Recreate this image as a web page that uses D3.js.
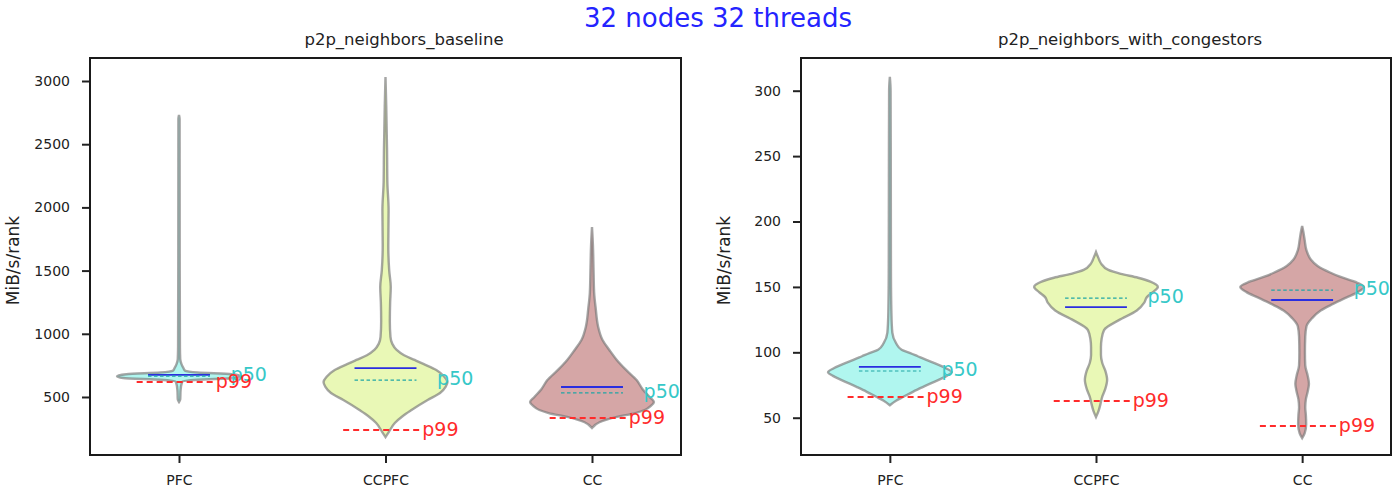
<!DOCTYPE html>
<html>
<head>
<meta charset="utf-8">
<script src="https://cdn.jsdelivr.net/npm/d3@7.9.0/dist/d3.min.js"></script>
<style>
    body { margin: 0; background: #fff; }
    text { font-family: 'DejaVu Sans', sans-serif; }
</style>
</head>
<body>
<div id="chart"></div>
<script>
// categories and titles
const categories = ['PFC', 'CCPFC', 'CC'];
const suptitle = '32 nodes 32 threads';
const panelTitles = ['p2p_neighbors_baseline', 'p2p_neighbors_with_congestors'];
const yLabel = 'MiB/s/rank';

// violin outlines: [value, relative half width]
const baselinePFC = [[460, 0], [480, 0.02], [550, 0.025], [620, 0.05], [636, 0.3], [650, 0.9], [665, 1.0],
    [680, 0.85], [694, 0.3], [708, 0.1], [730, 0.07], [760, 0.04], [800, 0.02], [900, 0.015],
    [1500, 0.012], [2700, 0.01], [2731, 0]];
const baselineCCPFC = [[183, 0], [220, 0.05], [294, 0.15], [350, 0.28], [397, 0.42], [476, 0.68],
    [531, 0.88], [580, 0.97], [619, 1.0], [660, 0.95], [714, 0.82], [760, 0.62], [793, 0.47],
    [830, 0.3], [872, 0.18], [920, 0.11], [975, 0.08], [1100, 0.07], [1250, 0.075], [1370, 0.085],
    [1500, 0.06], [1700, 0.045], [1979, 0.05], [2200, 0.03], [2454, 0.025], [2800, 0.012], [3032, 0]];
const baselineCC = [[255, 0], [300, 0.12], [342, 0.4], [373, 0.7], [397, 0.85], [430, 0.95], [460, 1.0],
    [500, 0.93], [560, 0.82], [634, 0.72], [714, 0.55], [793, 0.4], [872, 0.28], [951, 0.17],
    [1054, 0.1], [1200, 0.06], [1323, 0.035], [1500, 0.025], [1700, 0.015], [1845, 0]];

const congestPFC = [[59.5, 0], [63, 0.1], [66, 0.22], [70, 0.38], [73.4, 0.53], [78.8, 0.78], [82, 0.92],
    [84.8, 1.0], [88, 0.9], [92.5, 0.68], [94.4, 0.58], [97, 0.45], [99.4, 0.33], [102, 0.19],
    [107, 0.1], [115, 0.04], [130, 0.025], [160, 0.018], [250, 0.015], [300, 0.012], [310.5, 0]];
const congestCCPFC = [[50.5, 0], [55, 0.04], [60, 0.07], [66, 0.1], [72, 0.15], [79, 0.18], [86, 0.15],
    [92, 0.1], [98, 0.08], [104, 0.08], [110, 0.09], [117, 0.13], [124.6, 0.37], [132, 0.66],
    [138, 0.78], [142, 0.82], [146, 0.92], [150, 1.0], [154, 0.88], [157, 0.68], [160, 0.4],
    [163, 0.2], [168, 0.08], [172, 0.04], [176.7, 0]];
const congestCC = [[34.4, 0], [38, 0.04], [45, 0.065], [52, 0.06], [58, 0.05], [64, 0.06], [70, 0.09],
    [76, 0.11], [82, 0.09], [90, 0.05], [100, 0.045], [112, 0.05], [120, 0.07], [126, 0.16],
    [132, 0.3], [137, 0.5], [142, 0.72], [146, 0.9], [150, 1.0], [154, 0.85], [158, 0.6],
    [161, 0.45], [166, 0.25], [171, 0.14], [178, 0.07], [186, 0.04], [192, 0.02], [196.5, 0]];

// summary lines
const baselineMean = [675, 729, 579];
const baselineP50 = [665, 634, 532];
const baselineP99 = [619, 239, 334];
const congestMean = [88.8, 134.6, 140];
const congestP50 = [85.7, 141.5, 147.6];
const congestP99 = [65.8, 62.8, 43.6];

// axes
const baselineDomain = [41, 3182];
const congestDomain = [21.5, 325];
const baselineTicks = [500, 1000, 1500, 2000, 2500, 3000];
const congestTicks = [50, 100, 150, 200, 250, 300];

const fills = ['#b0f6ef', '#e9f8b6', '#d5a6a6'];

const width = 1395;
const height = 494;
const plotTop = 58, plotBottom = 455;

const panels = [
    { title: panelTitles[0], titleX: 404, left: 90, right: 681, domain: baselineDomain, ticks: baselineTicks,
      shapes: [baselinePFC, baselineCCPFC, baselineCC], mean: baselineMean, p50: baselineP50, p99: baselineP99 },
    { title: panelTitles[1], titleX: 1130, left: 801, right: 1391, domain: congestDomain, ticks: congestTicks,
      shapes: [congestPFC, congestCCPFC, congestCC], mean: congestMean, p50: congestP50, p99: congestP99 }
];

const svg = d3.select('#chart')
    .append('svg')
    .attr('width', width)
    .attr('height', height)
    .attr('viewBox', `0 0 ${width} ${height}`);

svg.append('rect').attr('width', width).attr('height', height).attr('fill', '#fff');

svg.append('text')
    .attr('x', 718)
    .attr('y', 27)
    .attr('text-anchor', 'middle')
    .attr('font-size', '26px')
    .attr('fill', '#2424ff')
    .text(suptitle);

panels.forEach(p => {
    const x = d3.scaleLinear().domain([0.569, 3.431]).range([p.left, p.right]);
    const y = d3.scaleLinear().domain(p.domain).range([plotBottom, plotTop]);
    const g = svg.append('g');

    // title
    g.append('text')
        .attr('x', p.titleX)
        .attr('y', 45)
        .attr('text-anchor', 'middle')
        .attr('font-size', '16.5px')
        .attr('fill', '#222')
        .text(p.title);

    // violins
    const half = 0.3;
    p.shapes.forEach((shape, i) => {
        const pos = i + 1;
        const area = d3.area()
            .y(d => y(d[0]))
            .x0(d => x(pos - d[1] * half))
            .x1(d => x(pos + d[1] * half))
            .curve(d3.curveMonotoneY);
        g.append('path')
            .datum(shape)
            .attr('d', area)
            .attr('fill', fills[i])
            .attr('stroke', '#777')
            .attr('stroke-opacity', 0.65)
            .attr('stroke-width', 2.4);
    });

    // mean (blue), median (dashed), p99 (red)
    categories.forEach((c, i) => {
        const pos = i + 1;
        g.append('line')
            .attr('x1', x(pos - 0.15)).attr('x2', x(pos + 0.15))
            .attr('y1', y(p.mean[i])).attr('y2', y(p.mean[i]))
            .attr('stroke', '#2a2ee0')
            .attr('stroke-width', 1.8);
        g.append('line')
            .attr('x1', x(pos - 0.15)).attr('x2', x(pos + 0.15))
            .attr('y1', y(p.p50[i])).attr('y2', y(p.p50[i]))
            .attr('stroke', '#1fa5a5')
            .attr('stroke-width', 1.2)
            .attr('stroke-dasharray', '3.5,2.5');
        g.append('text')
            .attr('x', x(pos + 0.25))
            .attr('y', y(p.p50[i]) - 2)
            .attr('dominant-baseline', 'central')
            .attr('font-size', '19px')
            .attr('fill', '#36c8c8')
            .text('p50');
        g.append('line')
            .attr('x1', x(pos - 0.205)).attr('x2', x(pos + 0.175))
            .attr('y1', y(p.p99[i])).attr('y2', y(p.p99[i]))
            .attr('stroke', '#ff2b2b')
            .attr('stroke-width', 2)
            .attr('stroke-dasharray', '6,4');
        g.append('text')
            .attr('x', x(pos + 0.178))
            .attr('y', y(p.p99[i]) - 1)
            .attr('dominant-baseline', 'central')
            .attr('font-size', '19px')
            .attr('fill', '#ff2b2b')
            .text('p99');
    });

    // y axis
    const yAxis = g.append('g')
        .attr('transform', `translate(${p.left},0)`)
        .call(d3.axisLeft(y).tickValues(p.ticks).tickFormat(d3.format('d')).tickSize(8).tickPadding(12));
    yAxis.select('.domain').remove();
    yAxis.selectAll('line').attr('stroke', '#222').attr('stroke-width', 2);
    yAxis.selectAll('text').attr('font-size', '14px').attr('fill', '#222');

    // x axis
    const xAxis = g.append('g')
        .attr('transform', `translate(0,${plotBottom})`)
        .call(d3.axisBottom(x).tickValues([1, 2, 3]).tickFormat((d, i) => categories[i]).tickSize(8).tickPadding(12));
    xAxis.select('.domain').remove();
    xAxis.selectAll('line').attr('stroke', '#222').attr('stroke-width', 2);
    xAxis.selectAll('text').attr('font-size', '14px').attr('fill', '#222');

    // frame
    g.append('rect')
        .attr('x', p.left).attr('y', plotTop)
        .attr('width', p.right - p.left).attr('height', plotBottom - plotTop)
        .attr('fill', 'none')
        .attr('stroke', '#1a1a1a')
        .attr('stroke-width', 2);

    // y label
    g.append('text')
        .attr('transform', `translate(${p.left - 77},${(plotTop + plotBottom) / 2 + 4}) rotate(-90)`)
        .attr('text-anchor', 'middle')
        .attr('dominant-baseline', 'central')
        .attr('font-size', '17px')
        .attr('fill', '#222')
        .text(yLabel);
});
</script>
</body>
</html>
